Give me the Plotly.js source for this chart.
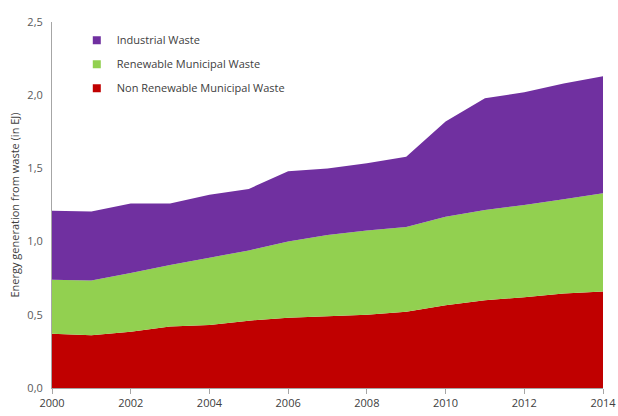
<!DOCTYPE html>
<html>
<head>
<meta charset="utf-8">
<script src="https://cdn.plot.ly/plotly-3.0.1.min.js"></script>
<style>html,body{margin:0;padding:0;background:#fff;}#chart{width:618px;height:416px;}</style>
</head>
<body>
<div id="chart"></div>
<script>
const years = [2000,2001,2002,2003,2004,2005,2006,2007,2008,2009,2010,2011,2012,2013,2014];
const nonRenewableMunicipal = [0.37,0.36,0.385,0.42,0.43,0.46,0.48,0.49,0.50,0.52,0.565,0.60,0.62,0.645,0.66];
const renewableMunicipal = [0.37,0.375,0.40,0.42,0.46,0.48,0.52,0.555,0.575,0.58,0.605,0.615,0.63,0.645,0.67];
const industrialWaste = [0.47,0.47,0.475,0.42,0.43,0.42,0.48,0.455,0.46,0.48,0.65,0.765,0.77,0.79,0.80];
const seriesNames = ["Non Renewable Municipal Waste","Renewable Municipal Waste","Industrial Waste"];
const seriesColors = ["#C00000","#92D050","#7030A0"];
const xTicks = [2000,2002,2004,2006,2008,2010,2012,2014];
const yTicks = [0,0.5,1,1.5,2,2.5];

const seriesValues = [nonRenewableMunicipal, renewableMunicipal, industrialWaste];
const traces = [];
seriesValues.forEach((vals, i) => {
  traces.push({
    x: years, y: vals, type: 'scatter', mode: 'none', stackgroup: 'one',
    fill: 'tonexty', fillcolor: seriesColors[i], line: {width: 0},
    name: seriesNames[i], showlegend: false, hoverinfo: 'x+y+name'
  });
});
// legend entries, top to bottom: Industrial, Renewable, Non Renewable
[2, 1, 0].forEach((i, k) => {
  traces.push({
    x: [null], y: [null], type: 'scatter', mode: 'markers',
    marker: {symbol: 'square', size: 8, color: seriesColors[i]},
    name: seriesNames[i], legendgroup: 'g' + k, showlegend: true
  });
});

const layout = {
  width: 618, height: 416,
  margin: {l: 52, r: 15, t: 22, b: 28},
  paper_bgcolor: '#ffffff', plot_bgcolor: '#ffffff',
  separators: ', ',
  font: {family: 'Open Sans, Liberation Sans, sans-serif', size: 11, color: '#595959'},
  showlegend: true,
  legend: {
    x: 0.045, y: 0.99, xanchor: 'left', yanchor: 'top',
    traceorder: 'grouped', tracegroupgap: 5,
    itemwidth: 30, bgcolor: 'rgba(0,0,0,0)',
    font: {family: 'Open Sans, Liberation Sans, sans-serif', size: 11, color: '#404040'}
  },
  xaxis: {
    range: [2000, 2014], tickvals: xTicks, ticktext: xTicks.map(String),
    showgrid: false, zeroline: false,
    showline: true, linecolor: '#a6a6a6', linewidth: 1,
    ticks: 'outside', ticklen: 5, tickcolor: '#a6a6a6',
    tickfont: {size: 11, color: '#404040'}
  },
  yaxis: {
    range: [0, 2.5], tickvals: yTicks, tickformat: '.1f',
    showgrid: false, zeroline: false,
    showline: true, linecolor: '#a6a6a6', linewidth: 1,
    ticks: '', ticklabelstandoff: 6,
    tickfont: {size: 11, color: '#595959'},
    title: {text: 'Energy generation from waste (in EJ)', standoff: 5,
            font: {size: 11, color: '#404040'}}
  }
};

Plotly.newPlot('chart', traces, layout, {displayModeBar: false, staticPlot: true});
</script>
</body>
</html>
